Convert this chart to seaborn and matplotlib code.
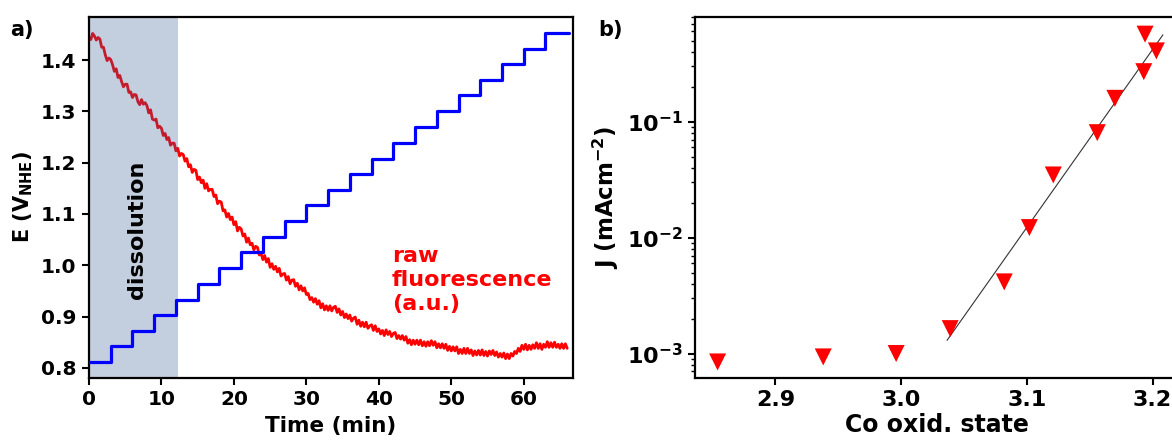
import numpy as np
import pandas as pd
import matplotlib
matplotlib.use("Agg")
import matplotlib.pyplot as plt
import seaborn as sns
from matplotlib.ticker import FixedLocator, LogLocator, NullFormatter, FormatStrFormatter

# ---------------- data: panel a ----------------
# Potential staircase: level held for 3 min per step
step_start_min = [0, 3, 6, 9, 12, 15, 18, 21, 24, 27, 30, 33, 36, 39, 42,
                  45, 48, 51, 54, 57, 60, 63]
step_potential = [0.811, 0.842, 0.872, 0.903, 0.933, 0.964, 0.994, 1.025,
                  1.056, 1.086, 1.117, 1.147, 1.178, 1.208, 1.239, 1.269,
                  1.300, 1.331, 1.361, 1.392, 1.422, 1.453]
step_end_min = 66.2

# Raw fluorescence trace (arbitrary units, scaled onto the potential axis),
# sampled every 0.25 min
fluor_dt = 0.25
fluor_raw = [
    1.443, 1.440, 1.452, 1.447, 1.439, 1.444, 1.441, 1.425,
    1.425, 1.410, 1.399, 1.404, 1.401, 1.391, 1.378, 1.383,
    1.366, 1.370, 1.358, 1.348, 1.353, 1.353, 1.337, 1.338,
    1.327, 1.333, 1.332, 1.319, 1.313, 1.323, 1.314, 1.317,
    1.311, 1.297, 1.303, 1.285, 1.283, 1.285, 1.268, 1.271,
    1.267, 1.253, 1.257, 1.245, 1.249, 1.234, 1.238, 1.238,
    1.223, 1.228, 1.213, 1.218, 1.216, 1.203, 1.208, 1.192,
    1.196, 1.181, 1.187, 1.185, 1.167, 1.172, 1.161, 1.166,
    1.150, 1.159, 1.145, 1.148, 1.148, 1.134, 1.137, 1.120,
    1.125, 1.123, 1.106, 1.108, 1.094, 1.101, 1.089, 1.094,
    1.079, 1.085, 1.067, 1.074, 1.071, 1.057, 1.061, 1.045,
    1.053, 1.040, 1.043, 1.030, 1.037, 1.035, 1.020, 1.023,
    1.011, 1.019, 1.006, 1.013, 0.996, 1.003, 0.992, 0.998,
    0.987, 0.994, 0.979, 0.983, 0.984, 0.971, 0.978, 0.964,
    0.971, 0.972, 0.959, 0.965, 0.952, 0.960, 0.950, 0.956,
    0.943, 0.945, 0.933, 0.937, 0.928, 0.935, 0.924, 0.931,
    0.917, 0.925, 0.913, 0.921, 0.912, 0.921, 0.911, 0.918,
    0.920, 0.908, 0.915, 0.903, 0.910, 0.898, 0.905, 0.896,
    0.903, 0.891, 0.897, 0.899, 0.885, 0.893, 0.881, 0.889,
    0.880, 0.889, 0.877, 0.882, 0.884, 0.873, 0.882, 0.871,
    0.876, 0.866, 0.873, 0.863, 0.874, 0.865, 0.871, 0.861,
    0.867, 0.869, 0.857, 0.863, 0.856, 0.863, 0.854, 0.861,
    0.848, 0.855, 0.845, 0.854, 0.846, 0.854, 0.845, 0.854,
    0.843, 0.851, 0.842, 0.851, 0.843, 0.853, 0.844, 0.851,
    0.839, 0.847, 0.839, 0.847, 0.838, 0.846, 0.834, 0.842,
    0.833, 0.841, 0.833, 0.841, 0.828, 0.836, 0.828, 0.838,
    0.828, 0.838, 0.828, 0.835, 0.824, 0.833, 0.825, 0.834,
    0.825, 0.835, 0.824, 0.832, 0.823, 0.833, 0.826, 0.834,
    0.824, 0.831, 0.821, 0.828, 0.821, 0.829, 0.818, 0.827,
    0.818, 0.828, 0.823, 0.832, 0.828, 0.838, 0.832, 0.844,
    0.836, 0.846, 0.835, 0.844, 0.836, 0.845, 0.838, 0.849,
    0.838, 0.847, 0.836, 0.846, 0.840, 0.851, 0.840, 0.849,
    0.840, 0.850, 0.840, 0.846, 0.838, 0.847, 0.838, 0.847,
    0.838,
]

dissolution_window_min = [0.0, 12.3]

# ---------------- data: panel b ----------------
co_oxid_state = [2.854, 2.938, 2.996, 3.039, 3.082, 3.102, 3.121, 3.156,
                 3.170, 3.193, 3.194, 3.203]
current_density = [8.46e-4, 9.35e-4, 1.00e-3, 1.64e-3, 4.15e-3, 1.22e-2,
                   3.47e-2, 8.04e-2, 0.159, 0.270, 0.569, 0.408]
# Exponential fit through the high-oxidation-state points
fit_oxid_state = [3.0365, 3.2082]
fit_current_density = [1.30e-3, 0.561]

# ---------------- tables ----------------
steps_df = pd.DataFrame({
    "t": step_start_min + [step_end_min],
    "E": step_potential + [step_potential[-1]],
})
fluor_df = pd.DataFrame({
    "t": np.arange(len(fluor_raw)) * fluor_dt,
    "F": fluor_raw,
})
oer_df = pd.DataFrame({"x": co_oxid_state, "J": current_density})
fit_df = pd.DataFrame({"x": fit_oxid_state, "J": fit_current_density})

# ---------------- style ----------------
sns.set_style("ticks")
plt.rcParams["font.family"] = ["DejaVu Sans"]
plt.rcParams["font.weight"] = "bold"
plt.rcParams["axes.labelweight"] = "bold"
plt.rcParams["mathtext.default"] = "bf"
plt.rcParams["axes.linewidth"] = 1.6
for key in ("text.color", "axes.labelcolor", "xtick.color", "ytick.color",
            "axes.edgecolor"):
    plt.rcParams[key] = "black"

fig = plt.figure(figsize=(11.72, 4.43), dpi=100)
axes_bottom = (443 - 377.6) / 443
axes_height = (377.6 - 17) / 443
ax_a = fig.add_axes([89 / 1172, axes_bottom, 484 / 1172, axes_height])
ax_b = fig.add_axes([695 / 1172, axes_bottom, 484 / 1172, axes_height])

# ---------------- panel a ----------------
sns.lineplot(data=fluor_df, x="t", y="F", ax=ax_a, color="#ff0000",
             linewidth=2.0, zorder=1, estimator=None, sort=False)
ax_a.axvspan(*dissolution_window_min, color="#3a5d98", alpha=0.30,
             linewidth=0, zorder=2)
sns.lineplot(data=steps_df, x="t", y="E", ax=ax_a, color="#0000ff",
             linewidth=2.3, drawstyle="steps-post", zorder=3,
             estimator=None, sort=False)

ax_a.set_xlim(0, 66.8)
ax_a.set_ylim(0.781, 1.484)
ax_a.xaxis.set_major_locator(FixedLocator([0, 10, 20, 30, 40, 50, 60]))
ax_a.yaxis.set_major_locator(FixedLocator([0.8, 0.9, 1.0, 1.1, 1.2, 1.3, 1.4]))
ax_a.yaxis.set_major_formatter(FormatStrFormatter("%.1f"))
ax_a.set_xlabel("Time (min)", fontsize=15.5, labelpad=5)
ax_a.set_ylabel(r"E (V$_{\mathbf{NHE}}$)", fontsize=15, labelpad=4)

ax_a.text(6.6, 1.07, "dissolution", rotation=90, ha="center", va="center",
          fontsize=16, fontweight="bold", color="black", zorder=4)
ax_a.text(41.8, 0.972, "raw\nfluorescence\n(a.u.)", ha="left", va="center",
          fontsize=16, fontweight="bold", color="#ff0000", linespacing=1.25,
          zorder=4)

# ---------------- panel b ----------------
sns.lineplot(data=fit_df, x="x", y="J", ax=ax_b, color="#333333",
             linewidth=0.8, zorder=2, estimator=None, sort=False)
sns.scatterplot(data=oer_df, x="x", y="J", ax=ax_b, marker="v", s=150,
                color="#ff0000", edgecolor="none", zorder=3)

ax_b.set_yscale("log")
ax_b.set_xlim(2.836, 3.221)
ax_b.set_ylim(6.2e-4, 0.80)
ax_b.xaxis.set_major_locator(FixedLocator([2.9, 3.0, 3.1, 3.2]))
ax_b.xaxis.set_major_formatter(FormatStrFormatter("%.1f"))
ax_b.yaxis.set_major_locator(LogLocator(base=10))
ax_b.yaxis.set_minor_locator(LogLocator(base=10, subs=np.arange(2, 10)))
ax_b.yaxis.set_minor_formatter(NullFormatter())
ax_b.set_xlabel("Co oxid. state", fontsize=17, labelpad=2)
ax_b.set_ylabel(r"J (mAcm$^{\mathbf{-2}}$)", fontsize=16.5, labelpad=4)

tick_sizes = {ax_a: 14.5, ax_b: 16}
for ax in (ax_a, ax_b):
    for side in ("top", "right", "left", "bottom"):
        ax.spines[side].set_visible(True)
        ax.spines[side].set_linewidth(1.6)
        ax.spines[side].set_color("black")
    ax.tick_params(axis="both", which="major", direction="out", length=5,
                   width=1.5, labelsize=tick_sizes[ax], pad=4, colors="black")
    ax.tick_params(axis="both", which="minor", direction="out", length=3,
                   width=1.0, colors="black")
    for lab in ax.get_xticklabels() + ax.get_yticklabels():
        lab.set_fontweight("bold")

fig.text(10 / 1172, 1 - 30 / 443, "a)", fontsize=15, fontweight="bold",
         va="center", ha="left")
fig.text(598 / 1172, 1 - 30 / 443, "b)", fontsize=15, fontweight="bold",
         va="center", ha="left")

fig.savefig("out.png", dpi=100)
